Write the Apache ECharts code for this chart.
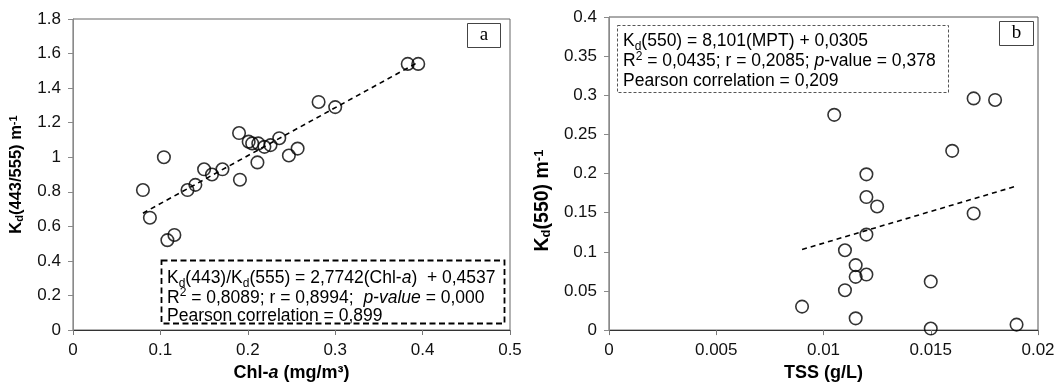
<!DOCTYPE html>
<html>
<head>
<meta charset="utf-8">
<script src="https://cdn.jsdelivr.net/npm/echarts@6/dist/echarts.min.js"></script>
<style>
  html, body { margin: 0; padding: 0; background: #fff; }
  #chart { width: 1059px; height: 387px; }
</style>
</head>
<body>
<div id="chart"></div>
<script>
// Panel a: Kd(443)/Kd(555) against Chl-a
const chlA = [0.080, 0.088, 0.104, 0.108, 0.116, 0.131, 0.140, 0.150, 0.159, 0.171, 0.190, 0.191, 0.201,
  0.205, 0.212, 0.219, 0.226, 0.211, 0.236, 0.247, 0.257, 0.281, 0.300, 0.383, 0.395];
const kdRatio = [0.81, 0.65, 1.00, 0.52, 0.55, 0.81, 0.84, 0.93, 0.90, 0.93, 1.14, 0.87, 1.09,
  1.08, 1.08, 1.06, 1.07, 0.97, 1.11, 1.01, 1.05, 1.32, 1.29, 1.54, 1.54];
const trendA = [[0.080, 0.676], [0.395, 1.550]];

// Panel b: Kd(550) against TSS
const tss = [0.009, 0.0105, 0.011, 0.011, 0.0115, 0.0115, 0.0115, 0.012, 0.012, 0.012, 0.012,
  0.0125, 0.015, 0.015, 0.016, 0.017, 0.017, 0.018, 0.019];
const kd550 = [0.030, 0.275, 0.102, 0.051, 0.083, 0.068, 0.015, 0.199, 0.170, 0.122, 0.071,
  0.158, 0.062, 0.002, 0.229, 0.296, 0.149, 0.294, 0.007];
const trendB = [[0.009, 0.103], [0.019, 0.184]];

// axis ranges: [min, max, interval]
const xRangeA = [0, 0.5, 0.1];
const yRangeA = [0, 1.8, 0.2];
const xRangeB = [0, 0.02, 0.005];
const yRangeB = [0, 0.4, 0.05];

const SANS = '"Liberation Sans", Arial, sans-serif';
const SERIF = '"Liberation Serif", "Times New Roman", serif';

// bold title text with italic / sub / sup pieces
function titleRich(size, small) {
  return {
    b: { fontFamily: SANS, fontWeight: 'bold', fontSize: size, color: '#000' },
    bi: { fontFamily: SANS, fontWeight: 'bold', fontStyle: 'italic', fontSize: size, color: '#000' },
    bs: { fontFamily: SANS, fontWeight: 'bold', fontSize: small, color: '#000', verticalAlign: 'bottom' },
    bp: { fontFamily: SANS, fontWeight: 'bold', fontSize: small, color: '#000', verticalAlign: 'top' }
  };
}

const boxRich = {
  n: { fontFamily: SANS, fontSize: 17.5, fill: '#000', lineHeight: 22 },
  i: { fontFamily: SANS, fontSize: 17.5, fontStyle: 'italic', fill: '#000', lineHeight: 22 },
  sub: { fontFamily: SANS, fontSize: 12, fill: '#000', lineHeight: 12, verticalAlign: 'bottom' },
  sup: { fontFamily: SANS, fontSize: 12, fill: '#000', lineHeight: 12, verticalAlign: 'top' }
};

function valueAxis(range, gridIndex, lineColor, tickColor, extra) {
  return Object.assign({
    type: 'value',
    gridIndex: gridIndex,
    min: range[0],
    max: range[1],
    interval: range[2],
    axisLine: { show: true, lineStyle: { color: lineColor, width: 1 } },
    axisTick: { show: true, length: 5, lineStyle: { color: tickColor } },
    splitLine: { show: false },
    axisLabel: { color: '#111', fontFamily: SANS, fontSize: 17, margin: 12 }
  }, extra);
}

function boxLine(x, y, text) {
  return {
    type: 'text', x: x, y: y, silent: true,
    style: { text: text, rich: boxRich, verticalAlign: 'middle', align: 'left',
      fontFamily: SANS, fontSize: 17.5, fill: '#000' }
  };
}

const chart = echarts.init(document.getElementById('chart'), null, { renderer: 'canvas' });

const option = {
  backgroundColor: '#fff',
  animation: false,
  grid: [
    { left: 73, top: 19, width: 437, height: 315, show: true, borderColor: '#666', borderWidth: 1 },
    { left: 609, top: 17, width: 429, height: 321, show: true, borderColor: '#555', borderWidth: 1 }
  ],
  xAxis: [
    valueAxis(xRangeA, 0, '#333', '#777', {
      name: '{b|Chl-}{bi|a}{b| (mg/m³)}', nameLocation: 'middle', nameGap: 34,
      nameTextStyle: { rich: titleRich(18, 12) }
    }),
    valueAxis(xRangeB, 1, '#333', '#777', {
      name: 'TSS (g/L)', nameLocation: 'middle', nameGap: 31,
      nameTextStyle: { fontFamily: SANS, fontWeight: 'bold', fontSize: 18, color: '#000' }
    })
  ],
  yAxis: [
    valueAxis(yRangeA, 0, '#8a8a8a', '#8a8a8a', {
      name: '{b|K}{bs|d}{b|(443/555) m}{bp|-1}', nameLocation: 'middle', nameGap: 48,
      nameTextStyle: { rich: titleRich(16.5, 11) }
    }),
    valueAxis(yRangeB, 1, '#8a8a8a', '#8a8a8a', {
      name: '{b|K}{bs|d}{b|(550) m}{bp|-1}', nameLocation: 'middle', nameGap: 56,
      nameTextStyle: { rich: titleRich(19.5, 13), padding: [0, 54, 0, 0] }
    })
  ],
  series: [
    {
      type: 'scatter', xAxisIndex: 0, yAxisIndex: 0, silent: true,
      data: chlA.map((x, i) => [x, kdRatio[i]]),
      symbol: 'circle', symbolSize: 12.5,
      itemStyle: { color: 'rgba(0,0,0,0)', borderColor: '#000', borderWidth: 1.6 }
    },
    {
      type: 'line', xAxisIndex: 0, yAxisIndex: 0, silent: true,
      data: trendA, showSymbol: false,
      lineStyle: { color: '#000', width: 1.6, type: [5, 4] }
    },
    {
      type: 'scatter', xAxisIndex: 1, yAxisIndex: 1, silent: true,
      data: tss.map((x, i) => [x, kd550[i]]),
      symbol: 'circle', symbolSize: 12.5,
      itemStyle: { color: 'rgba(0,0,0,0)', borderColor: '#000', borderWidth: 1.6 }
    },
    {
      type: 'line', xAxisIndex: 1, yAxisIndex: 1, silent: true,
      data: trendB, showSymbol: false,
      lineStyle: { color: '#000', width: 1.6, type: [5, 4] }
    }
  ],
  graphic: [
    // panel letters
    { type: 'rect', silent: true, shape: { x: 467.5, y: 23.5, width: 33, height: 24 },
      style: { fill: '#fff', stroke: '#444', lineWidth: 1 } },
    { type: 'text', silent: true, x: 484, y: 35.5,
      style: { text: 'a', fontFamily: SERIF, fontSize: 19, fill: '#000', align: 'center', verticalAlign: 'middle' } },
    { type: 'rect', silent: true, shape: { x: 999.5, y: 21.5, width: 34, height: 24 },
      style: { fill: '#fff', stroke: '#444', lineWidth: 1 } },
    { type: 'text', silent: true, x: 1016.5, y: 33.5,
      style: { text: 'b', fontFamily: SERIF, fontSize: 19, fill: '#000', align: 'center', verticalAlign: 'middle' } },
    // regression boxes
    { type: 'rect', silent: true, shape: { x: 161.5, y: 260.5, width: 343, height: 63 },
      style: { fill: 'rgba(255,255,255,0)', stroke: '#000', lineWidth: 1.8, lineDash: [6, 3.5] } },
    boxLine(167, 278.5, '{n|K}{sub|d}{n|(443)/K}{sub|d}{n|(555) = 2,7742(Chl-}{i|a}{n|)  + 0,4537}'),
    boxLine(167, 298, '{n|R}{sup|2}{n| = 0,8089; r = 0,8994;  }{i|p-value}{n| = 0,000}'),
    boxLine(167, 316.5, '{n|Pearson correlation = 0,899}'),
    { type: 'rect', silent: true, shape: { x: 617.5, y: 25.5, width: 331, height: 67 },
      style: { fill: 'rgba(255,255,255,0)', stroke: '#555', lineWidth: 1, lineDash: [3, 2] } },
    boxLine(623, 41.5, '{n|K}{sub|d}{n|(550) = 8,101(MPT) + 0,0305}'),
    boxLine(623, 61.5, '{n|R}{sup|2}{n| = 0,0435; r = 0,2085; }{i|p}{n|-value = 0,378}'),
    boxLine(623, 81.5, '{n|Pearson correlation = 0,209}')
  ]
};

chart.setOption(option);
window.addEventListener('resize', () => chart.resize());
</script>
</body>
</html>
